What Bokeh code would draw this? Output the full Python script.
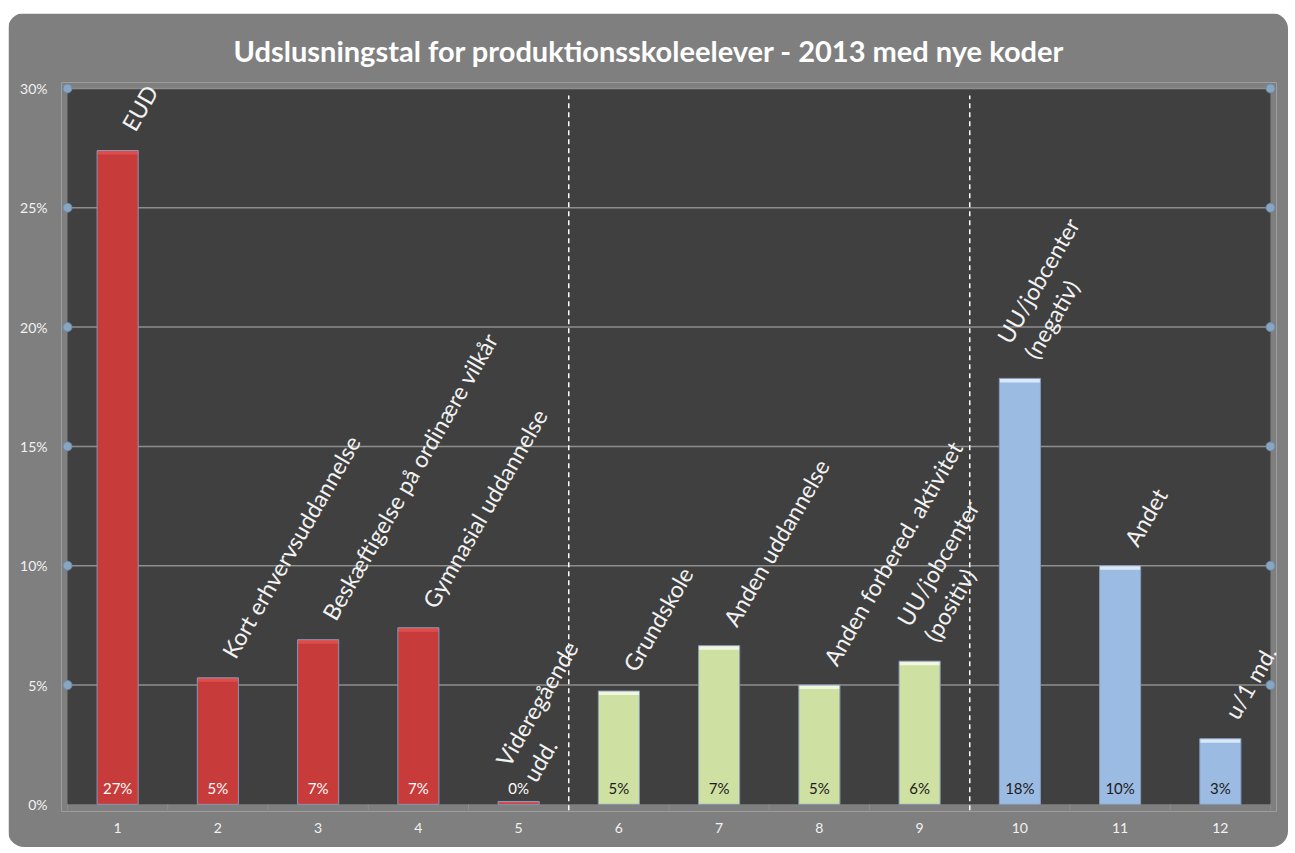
import math
from bokeh.plotting import figure
from bokeh.models import ColumnDataSource, FixedTicker, Range1d
from bokeh.core.properties import value
from bokeh.embed import file_html
from bokeh.resources import INLINE

# ---------------- data ----------------
title_text = "Udslusningstal for produktionsskoleelever  - 2013 med nye koder"
positions = [1, 2, 3, 4, 5, 6, 7, 8, 9, 10, 11, 12]
categories = [
    "EUD",
    "Kort erhvervsuddannelse",
    "Beskæftigelse på ordinære vilkår",
    "Gymnasial uddannelse",
    "Videregående\nudd.",
    "Grundskole",
    "Anden uddannelse",
    "Anden forbered. aktivitet",
    "UU/jobcenter\n(positiv)",
    "UU/jobcenter\n(negativ)",
    "Andet",
    "u/1 md.",
]
values = [27.4, 5.3, 6.9, 7.4, 0.12, 4.75, 6.65, 5.0, 6.0, 17.85, 10.0, 2.75]
groups = ["A", "A", "A", "A", "A", "B", "B", "B", "B", "C", "C", "C"]
y_ticks = [0, 5, 10, 15, 20, 25, 30]
y_tick_labels = ["0%", "5%", "10%", "15%", "20%", "25%", "30%"]
x_tick_labels = ["1", "2", "3", "4", "5", "6", "7", "8", "9", "10", "11", "12"]

# ---------------- style ----------------
FONT = "Lato"
fill = {"A": "#c73c3b", "B": "#cfe0a3", "C": "#9cbbe2"}
hilite = {"A": "#e04c4b", "B": "#f1f7df", "C": "#dbe8f7"}
val_color = {"A": "#ffffff", "B": "#1a1a1a", "C": "#1a1a1a"}
OUTER = "#7f7f7f"
INNER = "#404040"
GRID = "#8e8e8e"
EDGE = "#8599b8"

FW, FH = 1215, 729          # frame size in px
X_LO, X_HI = 0.44, 12.56
Y_LO, Y_HI = -0.3, 30.25
PPX = FW / (X_HI - X_LO)
PPY = FH / (Y_HI - Y_LO)
ANG = math.radians(60)

p = figure(width=1280, height=834, output_backend="svg", toolbar_location=None,
           x_range=Range1d(X_LO, X_HI), y_range=Range1d(Y_LO, Y_HI),
           min_border_left=53, min_border_right=12, min_border_top=69, min_border_bottom=36)
p.styles = {"border-radius": "16px", "overflow": "hidden",
            "margin-top": "13px", "margin-left": "8px"}
p.background_fill_color = OUTER
p.border_fill_color = OUTER
p.outline_line_color = None
p.xgrid.visible = False
p.ygrid.visible = False

p.title.text = title_text
p.title.align = "left"
p.title.offset = 172
p.title.text_font = FONT
p.title.text_font_size = "29px"
p.title.text_font_style = "bold"
p.title.text_color = "#ffffff"
p.title.standoff = 30

# axes
for ax in (p.xaxis, p.yaxis):
    ax.axis_line_color = None
    ax.major_tick_line_color = None
    ax.minor_tick_line_color = None
    ax.major_label_text_font = FONT
    ax.major_label_text_font_size = "14px"
    ax.major_label_text_color = "#f2f2f2"
p.yaxis.ticker = FixedTicker(ticks=y_ticks)
p.yaxis.major_label_overrides = {t: s for t, s in zip(y_ticks, y_tick_labels)}
p.yaxis.major_label_standoff = 8
p.xaxis.ticker = FixedTicker(ticks=positions)
p.xaxis.major_label_overrides = {t: s for t, s in zip(positions, x_tick_labels)}
p.xaxis.major_label_standoff = 5

# plot area
left_edge = positions[0] - 0.5
right_edge = positions[-1] + 0.5
top_edge = y_ticks[-1]
p.quad(left=[left_edge], right=[right_edge], bottom=[0], top=[top_edge],
       fill_color=INNER, line_color=None)
grid_y = y_ticks[1:]
p.segment(x0=[left_edge] * len(grid_y), x1=[right_edge] * len(grid_y), y0=grid_y, y1=grid_y,
          line_color=GRID, line_width=1.5)
# small category boundary ticks below the axis
bounds = [left_edge + i for i in range(len(positions) + 1)]
p.segment(x0=bounds, x1=bounds, y0=[0] * len(bounds), y1=[-6 / PPY] * len(bounds),
          line_color="#8c8c8c", line_width=1)

# group separators
sep = []
for i in range(1, len(groups)):
    if groups[i] != groups[i - 1]:
        sep.append(positions[i] - 0.5)
p.segment(x0=sep, x1=sep, y0=[-6 / PPY] * len(sep), y1=[top_edge - 7 / PPY] * len(sep),
          line_color="#ffffff", line_width=1.5, line_dash="5 4")

# bars
colors = [fill[g] for g in groups]
src = ColumnDataSource(dict(x=positions, top=values, color=colors))
p.vbar(x="x", top="top", bottom=0, width=0.41, fill_color="color", line_color=None, source=src)
hl_h = 4 / PPY
hl_bottom = [max(v - hl_h, v * 0.5) for v in values]
p.vbar(x=positions, top=values, bottom=hl_bottom, width=0.41,
       fill_color=[hilite[g] for g in groups], line_color=None)
p.vbar(x="x", top="top", bottom=0, width=0.41, fill_color=None,
       line_color=EDGE, line_width=1, source=src)

# circle markers at gridline ends
p.scatter(x=[left_edge] * len(grid_y) + [right_edge] * len(grid_y), y=grid_y + grid_y,
          size=9, fill_color="#88a5c2", line_color="#6b8aa9", line_width=1)

# value labels inside bars
p.text(x=positions, y=[0.7] * len(values), text=[f"{round(v)}%" for v in values],
       text_color=[val_color[g] for g in groups], text_font=value(FONT),
       text_font_size="15px", text_align="center", text_baseline="middle")

# rotated category labels (last line starts just above the bar, earlier lines stack above it)
DX, DY = 10, 22      # px from bar top centre to label start
LH = 31              # line spacing in px
lx, ly, lt = [], [], []
for xpos, v, cat in zip(positions, values, categories):
    lines = cat.split("\n")
    n = len(lines)
    for k, line in enumerate(lines):
        j = k - (n - 1)
        lx.append(xpos + (DX + j * LH * math.sin(ANG)) / PPX)
        ly.append(v + (DY - j * LH * math.cos(ANG)) / PPY)
        lt.append(line)
p.text(x=lx, y=ly, text=lt, angle=ANG, text_color="#f2f2f2", text_font=value(FONT),
       text_font_size="23px", text_align="left", text_baseline="alphabetic")

open("out.html", "w").write(file_html(p, INLINE))
